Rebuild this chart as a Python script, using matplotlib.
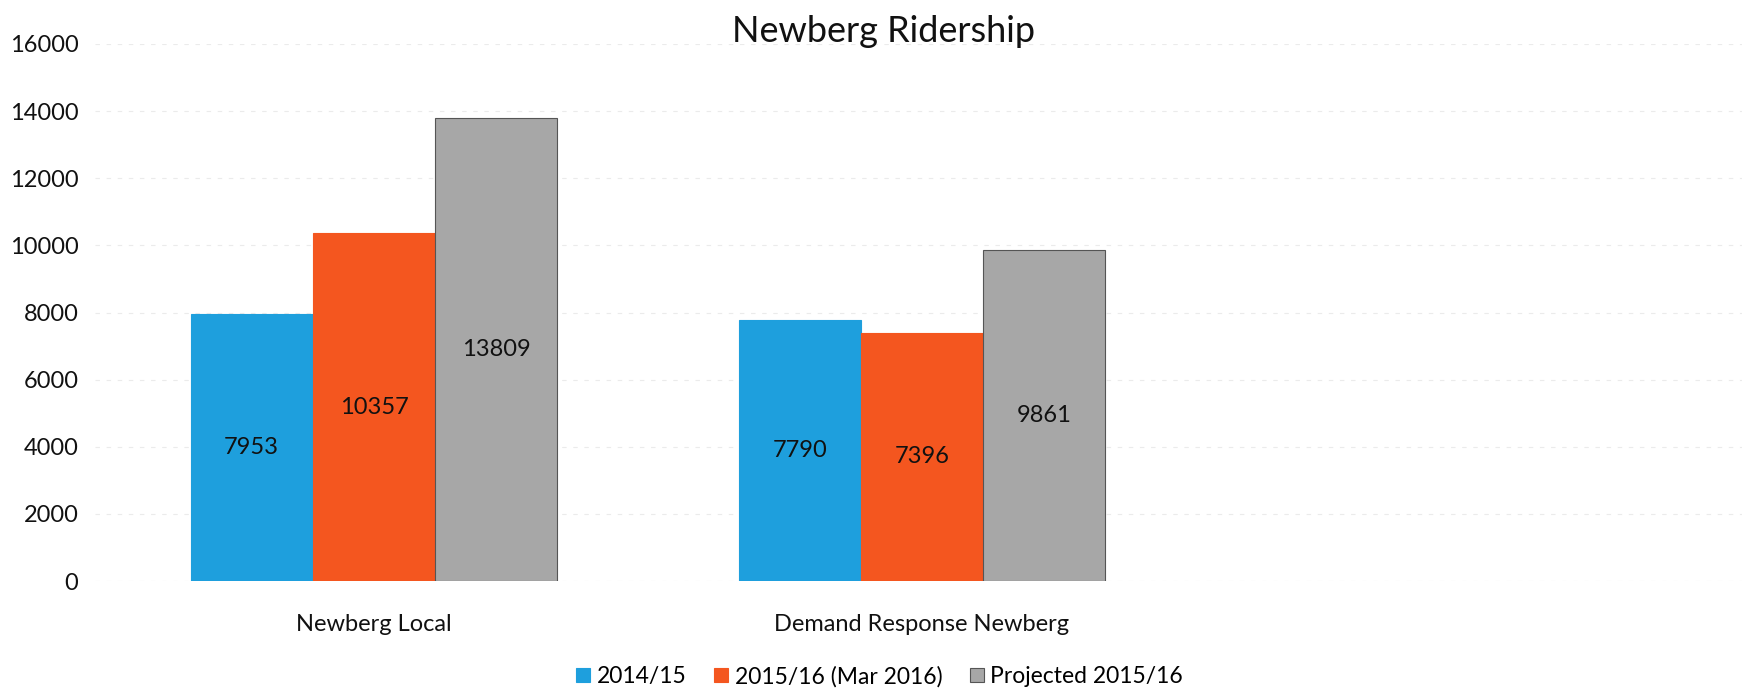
import numpy as np
import matplotlib
matplotlib.use("Agg")
import matplotlib.pyplot as plt

plt.rcParams['font.family'] = ['Lato', 'DejaVu Sans']

categories = ["Newberg Local", "Demand Response Newberg"]
series_names = ["2014/15", "2015/16 (Mar 2016)", "Projected 2015/16"]
values_2014 = [7953, 7790]
values_2015 = [10357, 7396]
values_proj = [13809, 9861]
yticks = [0, 2000, 4000, 6000, 8000, 10000, 12000, 14000, 16000]

colors = ['#1E9FDD', '#F4561F', '#A7A7A7']
edges = ['#1E9FDD', '#F4561F', '#555555']

fig = plt.figure(figsize=(17.42, 6.96), dpi=100)
ax = fig.add_axes([0.0545, 0.1652, 0.9455, 0.7716])

x = np.arange(len(categories))
w = 0.223
all_vals = [values_2014, values_2015, values_proj]
for i, vals in enumerate(all_vals):
    pos = x + (i - 1) * w
    bars = ax.bar(pos, vals, width=w, color=colors[i], edgecolor=edges[i],
                  linewidth=0.8, label=series_names[i], zorder=3)
    for b, v in zip(bars, vals):
        ax.text(b.get_x() + b.get_width() / 2, v / 2, str(v),
                ha='center', va='center', fontsize=17, color='#111111', zorder=4)

ax.set_xlim(-0.509, 2.496)
ax.set_ylim(0, 16000)
ax.set_yticks(yticks)
ax.set_yticklabels([str(t) for t in yticks])
ax.set_xticks(x)
ax.set_xticklabels(categories)
ax.tick_params(axis='y', length=0, pad=12, labelsize=17, labelcolor='#111111')
ax.tick_params(axis='x', length=0, pad=24, labelsize=17, labelcolor='#111111')
# scanned gridlines are barely visible
ax.grid(axis='y', color='#ebebeb', linestyle=(0, (4, 6)), linewidth=0.8, zorder=0)
for s in ax.spines.values():
    s.set_visible(False)

fig.text(0.507, 1 - 31 / 696, "Newberg Ridership", ha='center', va='center',
         fontsize=26, color='#111111')

fig.legend(loc='center', bbox_to_anchor=(0.505, 0.028), ncol=3, frameon=False,
           fontsize=16.5, handlelength=0.6, handleheight=0.6, handletextpad=0.3,
           columnspacing=1.2)

fig.savefig("out.png", dpi=100)
